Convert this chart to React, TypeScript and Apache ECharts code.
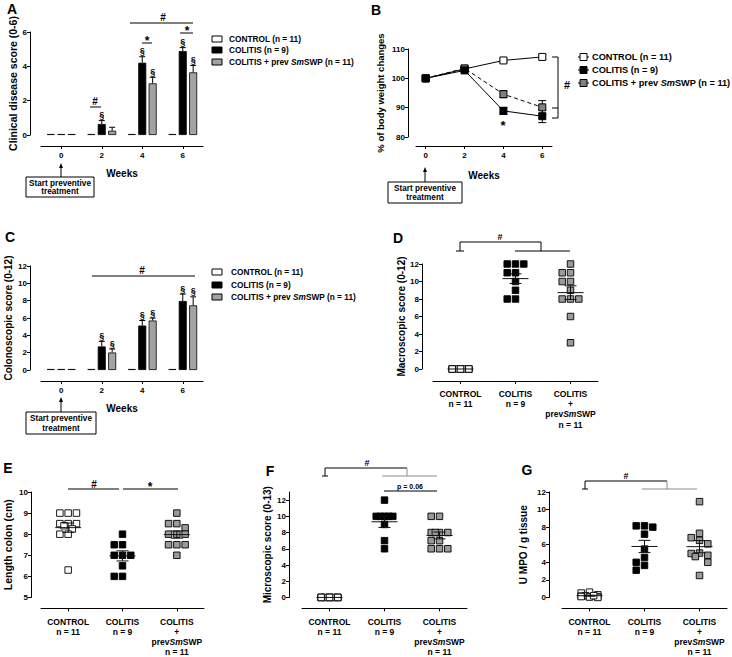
import React, { useEffect, useRef } from 'react';
import * as echarts from 'echarts';

const FONT = '"Liberation Sans", Arial, Helvetica, sans-serif';
const GRAY_BAR = '#a3a3a3';
const GRAY_PT = '#9a9a9a';
const LINE_GRAY = '#8c8c8c';

// ---------------- data ----------------
const weekLabels = ['0', '2', '4', '6'];
const weekValues = [0, 2, 4, 6];
const legendRich = ['{n|CONTROL (n = 11)}', '{n|COLITIS (n = 9)}', '{n|COLITIS + prev }{i|Sm}{n|SWP (n = 11)}'];
const groupLabels = ['CONTROL', 'COLITIS', 'COLITIS'];
const groupN = [11, 9, 11];

// A: clinical disease score
const clinControl = [0, 0, 0, 0];
const clinColitis = [0, 0.64, 4.21, 4.89];
const clinPrev = [0, 0.25, 3.01, 3.65];
const clinColitisErr = [0, 0.2, 0.35, 0.2];
const clinPrevErr = [0, 0.2, 0.35, 0.4];
const clinColitisSig = [0, 1, 1, 1];
const clinPrevSig = [0, 0, 1, 1];

// B: body weight
const bwControl = [100, 103.2, 106.1, 107.3];
const bwColitis = [100, 102.7, 88.9, 87.1];
const bwPrev = [100, 103.4, 94.6, 90.1];
const bwControlErr = [0, 0.5, 0.6, 0.8];
const bwColitisErr = [0, 0.5, 1.2, 2.2];
const bwPrevErr = [0, 0.6, 1.2, 2.3];

// C: colonoscopic score
const colonoControl = [0, 0, 0, 0];
const colonoColitis = [0, 2.72, 5.13, 7.96];
const colonoPrev = [0, 2.02, 5.71, 7.46];
const colonoColitisErr = [0, 0.58, 0.58, 0.8];
const colonoPrevErr = [0, 0.4, 0.28, 0.98];
const colonoColitisSig = [0, 1, 1, 1];
const colonoPrevSig = [0, 1, 1, 1];

// D: macroscopic score
const macroControl = [0, 0, 0, 0, 0, 0, 0, 0, 0, 0, 0];
const macroColitis = [12, 12, 12, 11, 11, 10, 9, 8, 8];
const macroPrev = [12, 11, 11, 10, 10, 9, 8, 8, 8, 6, 3];
const macroMean = [0, 10.33, 8.73];
const macroSem = [0, 0.55, 0.78];

// E: colon length
const lengthControl = [9, 9, 9, 8.5, 8.5, 8.5, 8.4, 8.25, 8, 8, 6.3];
const lengthColitis = [8, 7.5, 7.5, 7, 7, 7, 6.5, 6, 6];
const lengthPrev = [9, 8.5, 8.5, 8.3, 8, 8, 8, 7.5, 7.5, 7.5, 7];
const lengthMean = [8.31, 6.97, 7.98];
const lengthSem = [0.22, 0.24, 0.17];

// F: microscopic score
const microControl = [0, 0, 0, 0, 0, 0, 0, 0, 0, 0, 0];
const microColitis = [12, 10, 10, 10, 10, 10, 9, 7, 6];
const microPrev = [10, 10, 8, 8, 8, 8, 7, 7, 6, 6, 6];
const microMean = [0, 9.33, 7.64];
const microSem = [0, 0.7, 0.42];

// G: MPO
const mpoControl = [0.6, 0.3, 0.5, 0.2, 0.1, 0.15, 0.05, 0.1, 0.0, 0.2, 0.1];
const mpoColitis = [8.15, 8.15, 8.0, 7.2, 5.5, 4.55, 4.0, 3.65, 3.1];
const mpoPrev = [10.9, 7.3, 6.8, 6.5, 6.1, 5.05, 5.0, 4.8, 4.65, 4.0, 2.5];
const mpoMean = [0.2, 5.8, 5.78];
const mpoSem = [0.06, 0.7, 0.7];

// ---------------- layout ----------------
const gA = { left: 41, top: 32, width: 162, height: 103 };
const gB = { left: 416, top: 49, width: 136, height: 88 };
const gC = { left: 41, top: 266, width: 162, height: 104 };
const gD = { left: 433, top: 264, width: 165, height: 105 };
const gE = { left: 41, top: 492, width: 163, height: 106 };
const gF = { left: 302, top: 492, width: 165, height: 106 };
const gG = { left: 562, top: 492, width: 165, height: 106 };

const PT_SIZE = 6.5;

const bold = (size: number) => ({ fontFamily: FONT, fontWeight: 'bold' as const, fontSize: size, color: '#000' });

function swarm(values: number[], ppu: number, band: number): number[] {
  const size = PT_SIZE, step = 8.3;
  const cands = [0, -step, step, -step / 2, step / 2];
  const order = values.map((_, i) => i).sort((a, b) => values[b] - values[a]);
  const placed: { x: number; y: number }[] = [];
  const out = new Array(values.length).fill(0);
  for (const i of order) {
    const y = values[i] * ppu;
    let best = 0, bestOv = Infinity;
    for (const c of cands) {
      let ov = 0;
      for (const p of placed) {
        const dx = Math.abs(p.x - c), dy = Math.abs(p.y - y);
        if (dx < size && dy < size) ov += (size + 0.5 - dx) * (size + 0.5 - dy);
      }
      if (ov < bestOv - 1e-9) { bestOv = ov; best = c; }
      if (ov === 0) break;
    }
    placed.push({ x: best, y });
    out[i] = best / band;
  }
  return out;
}

const axisLineStyle = { show: true, onZero: false, lineStyle: { color: '#000', width: 1 } };

function yAxis(gridIndex: number, min: number, max: number, interval: number, name: string, offset: number, nameGap: number, nameSize: number, custom?: number[]) {
  const ax: any = {
    type: 'value', gridIndex, min, max, interval, offset,
    name, nameLocation: 'middle', nameGap, nameRotate: 90,
    nameTextStyle: bold(nameSize),
    axisLine: axisLineStyle,
    axisTick: { show: true, length: 3, lineStyle: { color: '#000' } },
    axisLabel: { ...bold(8), margin: 3 },
    splitLine: { show: false },
  };
  if (custom) {
    ax.axisLabel.customValues = custom;
    ax.axisTick.customValues = custom;
  }
  return ax;
}

function weekCatAxis(gridIndex: number, offset: number) {
  return {
    type: 'category', gridIndex, data: weekLabels, offset, boundaryGap: true,
    name: 'Weeks', nameLocation: 'middle', nameGap: 22, nameTextStyle: bold(10),
    axisLine: axisLineStyle,
    axisTick: { show: true, alignWithLabel: true, length: 3, lineStyle: { color: '#000' } },
    axisLabel: { ...bold(8), margin: 5 },
  };
}

const groupRichLabels = groupLabels.map((g, i) =>
  i === 2 ? `{b|${g}}\n{b|+}\n{b|prev}{bi|Sm}{b|SWP}\n{b|n = ${groupN[i]}}` : `{b|${g}}\n{b|n = ${groupN[i]}}`
);

function groupAxis(gridIndex: number, offset: number, margin: number) {
  return {
    type: 'value', gridIndex, min: -0.5, max: 2.5, offset,
    axisLine: axisLineStyle,
    axisTick: { show: true, length: 3, customValues: [0, 1, 2], lineStyle: { color: '#000' } },
    axisLabel: {
      customValues: [0, 1, 2], margin,
      formatter: (v: number) => groupRichLabels[Math.round(v)],
      rich: {
        b: { ...bold(8.5), lineHeight: 10.3 },
        bi: { ...bold(8.5), fontStyle: 'italic', lineHeight: 10.3 },
      },
    },
    splitLine: { show: false },
  };
}

function errRender(dx: number) {
  return (params: any, api: any) => {
    const x = api.value(0), v = api.value(1), e = api.value(2), sig = api.value(3);
    const p0 = api.coord([x, v]);
    const p1 = api.coord([x, v + e]);
    const cx = p0[0] + dx;
    const children: any[] = [];
    if (e > 0) {
      children.push({ type: 'line', shape: { x1: cx, y1: p0[1], x2: cx, y2: p1[1] }, style: { stroke: '#000', lineWidth: 1 } });
      children.push({ type: 'line', shape: { x1: cx - 3, y1: p1[1], x2: cx + 3, y2: p1[1] }, style: { stroke: '#000', lineWidth: 1 } });
    }
    if (sig) {
      children.push({ type: 'text', x: cx, y: p1[1] - 1, style: { text: '§', fontSize: 9, fontFamily: FONT, fontWeight: 'bold', fill: '#000', align: 'center', verticalAlign: 'bottom' } });
    }
    return { type: 'group', children };
  };
}

function symErrRender(params: any, api: any) {
  const x = api.value(0), v = api.value(1), e = api.value(2);
  if (!(e > 0)) return { type: 'group', children: [] };
  const top = api.coord([x, v + e]);
  const bot = api.coord([x, v - e]);
  const cx = top[0];
  const st = { stroke: '#000', lineWidth: 1 };
  return {
    type: 'group',
    children: [
      { type: 'line', shape: { x1: cx, y1: top[1], x2: cx, y2: bot[1] }, style: st },
      { type: 'line', shape: { x1: cx - 4, y1: top[1], x2: cx + 4, y2: top[1] }, style: st },
      { type: 'line', shape: { x1: cx - 4, y1: bot[1], x2: cx + 4, y2: bot[1] }, style: st },
    ],
  };
}

function meanRender(params: any, api: any) {
  const x = api.value(0), m = api.value(1), s = api.value(2);
  const c = api.coord([x, m]);
  const t = api.coord([x, m + s]);
  const b = api.coord([x, m - s]);
  const st = { stroke: '#111', lineWidth: 1 };
  const ch: any[] = [{ type: 'line', shape: { x1: c[0] - 13, y1: c[1], x2: c[0] + 13, y2: c[1] }, style: st }];
  if (s > 0) {
    ch.push({ type: 'line', shape: { x1: c[0], y1: t[1], x2: c[0], y2: b[1] }, style: st });
    ch.push({ type: 'line', shape: { x1: c[0] - 6, y1: t[1], x2: c[0] + 6, y2: t[1] }, style: st });
    ch.push({ type: 'line', shape: { x1: c[0] - 6, y1: b[1], x2: c[0] + 6, y2: b[1] }, style: st });
  }
  return { type: 'group', children: ch };
}

const barColors = ['#ffffff', '#000000', GRAY_BAR];
const ptColors = ['#ffffff', '#000000', GRAY_PT];

function barPanel(axisIdx: number, sets: number[][], errs: number[][], sigs: number[][]) {
  const out: any[] = [];
  sets.forEach((d, k) => {
    out.push({
      type: 'bar', xAxisIndex: axisIdx, yAxisIndex: axisIdx, data: d,
      barWidth: 8, barGap: '30%', barMinHeight: 1,
      itemStyle: { color: barColors[k], borderColor: '#000', borderWidth: 0.8 },
    });
  });
  errs.forEach((e, j) => {
    const k = j + 1;
    out.push({
      type: 'custom', xAxisIndex: axisIdx, yAxisIndex: axisIdx, z: 5,
      data: sets[k].map((v, i) => [i, v, e[i], sigs[j][i]]),
      renderItem: errRender((k - 1) * 10.4),
    });
  });
  return out;
}

function dotPanel(axisIdx: number, grid: any, ymin: number, ymax: number, groups: number[][], mean: number[], sem: number[]) {
  const ppu = grid.height / (ymax - ymin);
  const band = grid.width / 3;
  const out: any[] = [];
  groups.forEach((vals, g) => {
    const off = swarm(vals, ppu, band);
    out.push({
      type: 'scatter', xAxisIndex: axisIdx, yAxisIndex: axisIdx,
      data: vals.map((v, i) => [g + off[i], v]),
      symbol: 'rect', symbolSize: PT_SIZE, z: 3,
      itemStyle: { color: ptColors[g], borderColor: '#000', borderWidth: 0.9, opacity: 1 },
    });
  });
  out.push({
    type: 'custom', xAxisIndex: axisIdx, yAxisIndex: axisIdx, z: 6,
    data: mean.map((m, i) => [i, m, sem[i]]),
    renderItem: meanRender,
  });
  return out;
}

// ---------------- graphic helpers ----------------
const T = (x: number, y: number, text: string, size: number, extra: any = {}) => ({
  type: 'text', x, y, silent: true,
  style: { text, fontSize: size, fontFamily: FONT, fontWeight: 'bold', fill: '#000', align: 'center', verticalAlign: 'middle', ...extra },
});
const L = (pts: number[][], color = '#000') => ({
  type: 'polyline', silent: true, shape: { points: pts }, style: { stroke: color, lineWidth: 1, fill: null },
});
const R = (x: number, y: number, w: number, h: number, fill: string) => ({
  type: 'rect', silent: true, shape: { x, y, width: w, height: h }, style: { fill, stroke: '#000', lineWidth: 1 },
});
const legendRichStyle = (size: number) => ({
  n: { fontFamily: FONT, fontWeight: 'bold', fontSize: size, fill: '#000' },
  i: { fontFamily: FONT, fontWeight: 'bold', fontStyle: 'italic', fontSize: size, fill: '#000' },
});

function barLegend(x: number, tx: number, ys: number[], size: number) {
  const els: any[] = [];
  ys.forEach((y, k) => {
    els.push(R(x, y - 3, 10, 6, barColors[k]));
    els.push({ type: 'text', x: tx, y, silent: true, style: { text: legendRich[k], rich: legendRichStyle(size), align: 'left', verticalAlign: 'middle' } });
  });
  return els;
}

function lineLegend(x0: number, tx: number, ys: number[], size: number) {
  const els: any[] = [];
  ys.forEach((y, k) => {
    els.push(L([[x0, y], [x0 + 11, y]]));
    els.push(R(x0 + 2, y - 3.5, 7, 7, k === 2 ? '#808080' : barColors[k]));
    els.push({ type: 'text', x: tx, y, silent: true, style: { text: legendRich[k], rich: legendRichStyle(size), align: 'left', verticalAlign: 'middle' } });
  });
  return els;
}

function startBox(x: number, y: number, w: number, h: number, arrowX: number, tipY: number) {
  const cx = x + w / 2;
  return [
    L([[arrowX, y], [arrowX, tipY + 4]]),
    { type: 'polygon', silent: true, shape: { points: [[arrowX, tipY], [arrowX - 2, tipY + 5], [arrowX + 2, tipY + 5]] }, style: { fill: '#000' } },
    R(x, y, w, h, '#fff'),
    T(cx, y + h * 0.3, 'Start preventive', 8.2),
    T(cx, y + h * 0.74, 'treatment', 8.2),
  ];
}

function buildOption() {
  const graphic: any[] = [
    // panel letters
    T(12, 9, 'A', 14), T(376, 10, 'B', 14), T(10, 237, 'C', 14), T(398, 238, 'D', 14),
    T(8, 468, 'E', 14), T(270, 471, 'F', 14), T(527, 470, 'G', 14),
    // legends
    ...barLegend(212, 229, [39, 50, 62], 8.3),
    ...barLegend(212, 231, [272, 285, 297], 8.3),
    ...lineLegend(578, 592, [57, 70, 83], 9.2),
    // start boxes
    ...startBox(26, 177, 68, 20, 61, 163),
    ...startBox(388, 182, 74, 21, 425, 167),
    ...startBox(26, 412, 70, 22, 61, 397),
    // A annotations
    L([[130, 23], [193, 23]]), T(163, 17, '#', 10),
    L([[142, 43], [152, 43]]), T(147, 41, '*', 12),
    L([[180, 33], [193, 33]]), T(187, 31, '*', 12),
    L([[90, 107], [101, 107]]), T(95, 101, '#', 10),
    // B annotations
    T(503, 125, '*', 13),
    L([[552, 57], [558, 57], [558, 118], [552, 118]]),
    L([[552, 108], [558, 108]]),
    T(567, 85, '#', 11),
    // C annotations
    L([[92, 276], [195, 276]]), T(142, 270, '#', 10),
    // D annotations
    T(500, 237, '#', 9),
    L([[460, 251], [460, 242], [541, 242], [541, 251]]),
    L([[456, 251], [464, 251]]),
    L([[515, 251], [570, 251]]),
    // E annotations
    L([[68, 489], [119, 489]]), T(94, 484, '#', 10),
    L([[123, 489], [178, 489]]), T(150, 487, '*', 12),
    // F annotations
    T(367, 463, '#', 9),
    L([[325, 476], [325, 468], [407, 468]]),
    L([[322, 476], [328, 476]]),
    L([[407, 468], [407, 476]], LINE_GRAY),
    L([[382, 476], [437, 476]], LINE_GRAY),
    T(410, 486, 'p = 0.06', 7),
    L([[384, 491], [437, 491]]),
    // G annotations
    T(626, 476, '#', 9),
    L([[585, 489], [585, 481], [667, 481]]),
    L([[582, 489], [588, 489]]),
    L([[667, 481], [667, 489]], LINE_GRAY),
    L([[642, 489], [697, 489]], LINE_GRAY),
  ];

  const xAxisB = {
    type: 'value', gridIndex: 1, min: -0.5, max: 6.5, offset: 9,
    name: 'Weeks', nameLocation: 'middle', nameGap: 24, nameTextStyle: bold(10),
    axisLine: axisLineStyle,
    axisTick: { show: true, length: 3, customValues: weekValues, lineStyle: { color: '#000' } },
    axisLabel: { ...bold(8), margin: 5, customValues: weekValues },
    splitLine: { show: false },
  };

  const lineSeries = (data: number[], err: number[], fill: string, dashed: boolean) => [
    {
      type: 'custom', xAxisIndex: 1, yAxisIndex: 1, z: 2,
      data: weekValues.map((w, i) => [w, data[i], err[i]]),
      renderItem: symErrRender,
    },
    {
      type: 'line', xAxisIndex: 1, yAxisIndex: 1, z: 3,
      data: weekValues.map((w, i) => [w, data[i]]),
      symbol: 'rect', symbolSize: 7, showSymbol: true,
      lineStyle: { color: '#000', width: 1, type: dashed ? [4, 3] : 'solid' },
      itemStyle: { color: fill, borderColor: '#000', borderWidth: 1 },
    },
  ];

  return {
    animation: false,
    backgroundColor: '#ffffff',
    textStyle: { fontFamily: FONT },
    grid: [gA, gB, gC, gD, gE, gF, gG],
    xAxis: [
      weekCatAxis(0, 11),
      xAxisB,
      weekCatAxis(2, 11),
      groupAxis(3, 12, 7.5),
      groupAxis(4, 11, 8),
      groupAxis(5, 11, 8),
      groupAxis(6, 11, 8),
    ],
    yAxis: [
      yAxis(0, 0, 6, 2, 'Clinical disease score (0-6)', 11, 9, 10.5),
      yAxis(1, 80, 110, 10, '% of body weight changes', 8, 23, 9.5),
      yAxis(2, 0, 12, 2, 'Colonoscopic score (0-12)', 11, 17, 10),
      yAxis(3, 0, 12, 2, 'Macroscopic score (0-12)', 11, 15, 10),
      yAxis(4, 5, 10, 1, 'Length colon (cm)', 10, 18, 10.5),
      yAxis(5, 0, 13, 2, 'Microscopic score (0-13)', 13, 17, 10, [0, 2, 4, 6, 8, 10, 12]),
      yAxis(6, 0, 12, 2, 'U MPO / g tissue', 13, 21, 10),
    ],
    series: [
      ...barPanel(0, [clinControl, clinColitis, clinPrev], [clinColitisErr, clinPrevErr], [clinColitisSig, clinPrevSig]),
      ...lineSeries(bwControl, bwControlErr, '#ffffff', false),
      ...lineSeries(bwPrev, bwPrevErr, '#808080', true),
      ...lineSeries(bwColitis, bwColitisErr, '#000000', false),
      ...barPanel(2, [colonoControl, colonoColitis, colonoPrev], [colonoColitisErr, colonoPrevErr], [colonoColitisSig, colonoPrevSig]),
      ...dotPanel(3, gD, 0, 12, [macroControl, macroColitis, macroPrev], macroMean, macroSem),
      ...dotPanel(4, gE, 5, 10, [lengthControl, lengthColitis, lengthPrev], lengthMean, lengthSem),
      ...dotPanel(5, gF, 0, 13, [microControl, microColitis, microPrev], microMean, microSem),
      ...dotPanel(6, gG, 0, 12, [mpoControl, mpoColitis, mpoPrev], mpoMean, mpoSem),
    ],
    graphic,
  };
}

export default function App() {
  const ref = useRef<HTMLDivElement>(null);
  useEffect(() => {
    if (!ref.current) return;
    const chart = echarts.init(ref.current, undefined, { renderer: 'svg' });
    chart.setOption(buildOption() as any);
    return () => chart.dispose();
  }, []);
  return (
    <div
      ref={ref}
      style={{ position: 'absolute', left: 0, top: 0, width: 732, height: 657, background: '#fff' }}
    />
  );
}
